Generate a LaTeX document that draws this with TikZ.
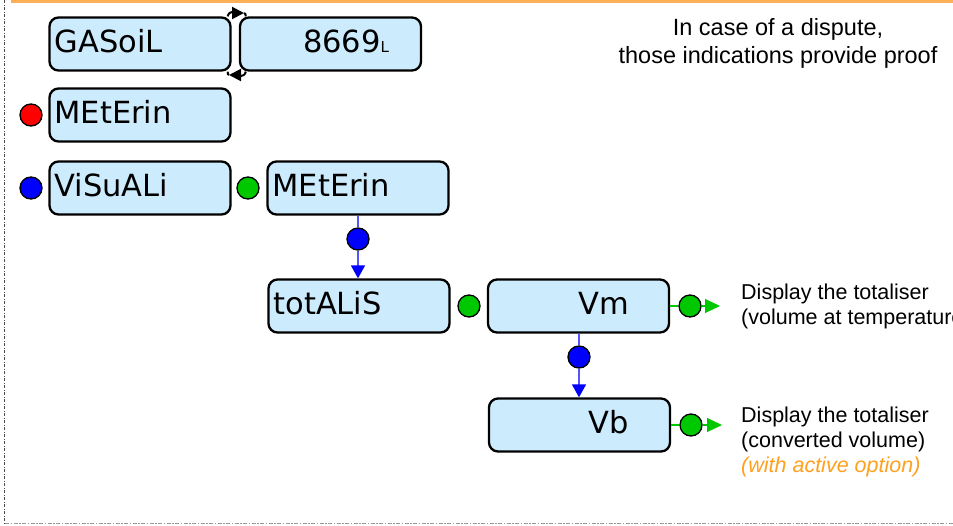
\documentclass[tikz,border=0pt]{standalone}
\usepackage{fontspec}
\setmainfont{Liberation Sans}
\newfontfamily\lcdfont{DejaVu Sans}
\usepackage{xcolor}
\usepackage{tikz}
\usetikzlibrary{positioning,arrows.meta}

\definecolor{boxblue}{RGB}{204,235,252}
\definecolor{dotgreen}{RGB}{0,200,0}
\definecolor{linkblue}{RGB}{85,85,255}
\definecolor{optorange}{RGB}{255,160,30}
\definecolor{barorange}{RGB}{255,175,85}

\begin{document}
\begin{tikzpicture}[x=1pt,y=-1pt,
		lcd/.style={draw=black,line width=2.3pt,fill=boxblue,rounded corners=9pt,
			minimum width=181pt,minimum height=53pt,inner xsep=5pt,inner ysep=0pt,
			text width=171pt,text height=22pt,text depth=6pt,align=left,
			font=\lcdfont\fontsize{30.5}{34}\selectfont},
		dot/.style={circle,draw=black,line width=1.3pt,minimum size=22pt,inner sep=0pt},
		bluelink/.style={draw=linkblue,line width=1.5pt},
		bluearrow/.style={bluelink,-{Triangle[length=13pt,width=14pt,color=blue]}},
		greenlink/.style={draw=dotgreen,line width=1.2pt},
		greenarrow/.style={greenlink,-{Triangle[length=15pt,width=14pt]}},
		swaplink/.style={line width=2pt},
		swaparrow/.style={swaplink,-{Triangle[length=12pt,width=12pt]}},
		note/.style={font=\fontsize{21.5}{25}\selectfont,align=left,inner sep=0pt,anchor=north west}]
	\useasboundingbox (0,0) rectangle (953,525);
	
	% khung
	\draw[barorange,line width=3pt] (11,1.5) -- (953,1.5);
	\draw[black!70,line width=0.8pt,dash pattern=on 3pt off 1.5pt on 1pt off 1.5pt] (4.5,0) -- (4.5,523);
	\draw[black!40,line width=1pt,dash pattern=on 4pt off 1.5pt on 1.5pt off 1.5pt] (5,523) -- (953,523);
	
	% các ô hiển thị
	\node[lcd] (gasoil) at (140,44) {GASoiL};
	\node[lcd,align=right] (litres) at (330.5,44) {\mbox{8669{\fontsize{15}{15}\selectfont L}\hspace{27pt}}};
	\node[lcd] (meterA) at (140,115) {MEtErin};
	\node[lcd] (visuali) at (140,188) {ViSuALi};
	\node[lcd] (meterB) at (358,188) {MEtErin};
	\node[lcd] (totalis) at (359,306) {totALiS};
	\node[lcd,align=right] (vm) at (578.5,306) {\mbox{Vm\hspace{35pt}}};
	\node[lcd,align=right] (vb) at (579.5,425) {\mbox{Vb\hspace{36pt}}};
	
	% nút bấm
	\foreach \name/\x/\y/\col in {dotR/31/115/red, dotB/31/188/blue, dotG/248/188/dotgreen,
		dotA/358/239/blue, dotT/469/306/dotgreen, dotM/690/306/dotgreen,
		dotV/579/357/blue, dotE/691/425/dotgreen}
	\node[dot,fill=\col] (\name) at (\x,\y) {};
	
	% mũi tên cong giữa hai ô đầu
	\coordinate (swapTop) at (244,13);
	\coordinate (swapBot) at (229,75);
	\draw[swaparrow] ([xshift=-4pt]gasoil.north east) .. controls +(2,-7) and +(-8,0) .. (swapTop);
	\draw[swaplink] (swapTop) .. controls +(2,0) and +(-1,-2) .. ([xshift=7pt]litres.north west);
	\draw[swaparrow] ([xshift=7pt]litres.south west) .. controls +(-2,7) and +(8,0) .. (swapBot);
	\draw[swaplink] (swapBot) .. controls +(-2,0) and +(1,2) .. ([xshift=-4pt]gasoil.south east);
	
	% đường nối
	\draw[bluelink] (meterB) -- (dotA);
	\draw[bluearrow] (dotA) -- (dotA |- totalis.north);
	\draw[bluelink] (dotV |- vm.south) -- (dotV);
	\draw[bluearrow] (dotV) -- (dotV |- vb.north);
	
	\coordinate (outM) at (720,306);
	\coordinate (outE) at (722,425);
	\draw[greenlink] (vm) -- (dotM);
	\draw[greenarrow] (dotM) -- (outM);
	\draw[greenlink] (vb) -- (dotE);
	\draw[greenarrow] (dotE) -- (outE);
	
	% chú thích
	\node[note,anchor=north,align=center,font=\fontsize{23.5}{28}\selectfont] (dispute) at (778,18) {In case of a dispute,\\those indications provide proof};
	\node[note] (infoM) at (741,284) {Display the totaliser\\(volume at temperature)};
	\node[note] (infoB) at (741,407) {Display the totaliser\\(converted volume)\\{\color{optorange}\itshape (with active option)}};
\end{tikzpicture}
\end{document}
